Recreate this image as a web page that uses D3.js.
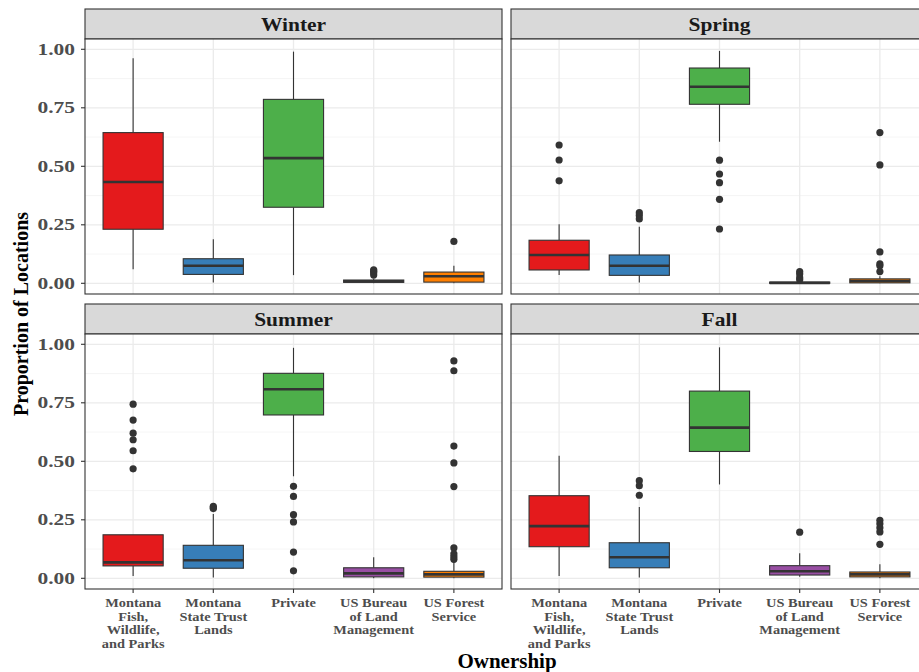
<!DOCTYPE html>
<html>
<head>
<meta charset="utf-8">
<script src="https://cdn.jsdelivr.net/npm/d3@7"></script>
<style>
  body { margin: 0; background: #fff; overflow: hidden; }
  text { font-family: "Liberation Serif", "Times New Roman", serif; font-weight: bold; }
</style>
</head>
<body>
<div id="chart"></div>
<script>
// categorie (proprietà del terreno)
var categories = ["Montana Fish, Wildlife, and Parks", "Montana State Trust Lands", "Private",
                  "US Bureau of Land Management", "US Forest Service"];
var categoryLines = [["Montana", "Fish,", "Wildlife,", "and Parks"],
                     ["Montana", "State Trust", "Lands"],
                     ["Private"],
                     ["US Bureau", "of Land", "Management"],
                     ["US Forest", "Service"]];
var seasons = ["Winter", "Spring", "Summer", "Fall"];
var colors = ["#E41A1C", "#377EB8", "#4DAF4A", "#984EA3", "#FF7F00"];
var yTicks = [0, 0.25, 0.5, 0.75, 1];
var yMinor = [0.125, 0.375, 0.625, 0.875];

// [min whisker, q1, mediana, q3, max whisker] per categoria
var winterStats = [[0.06, 0.231, 0.433, 0.644, 0.962],
                   [0.003, 0.038, 0.075, 0.105, 0.188],
                   [0.035, 0.325, 0.535, 0.786, 0.99],
                   [0.0, 0.004, 0.009, 0.014, 0.02],
                   [0.0, 0.005, 0.03, 0.048, 0.075]];
var winterOutliers = [[], [], [], [0.035, 0.045, 0.052, 0.057], [0.179]];

var springStats = [[0.035, 0.057, 0.121, 0.184, 0.252],
                   [0.003, 0.034, 0.075, 0.121, 0.242],
                   [0.605, 0.765, 0.84, 0.92, 0.993],
                   [0.0, 0.0, 0.002, 0.005, 0.008],
                   [0.0, 0.002, 0.01, 0.019, 0.03]];
var springOutliers = [[0.591, 0.527, 0.438],
                      [0.302, 0.29, 0.275],
                      [0.526, 0.467, 0.43, 0.359, 0.232],
                      [0.015, 0.024, 0.04, 0.05],
                      [0.644, 0.506, 0.134, 0.083, 0.075, 0.05]];

var summerStats = [[0.01, 0.053, 0.068, 0.186, 0.186],
                   [0.003, 0.043, 0.077, 0.141, 0.275],
                   [0.436, 0.698, 0.808, 0.876, 0.985],
                   [0.0, 0.006, 0.021, 0.045, 0.09],
                   [0.0, 0.005, 0.017, 0.03, 0.071]];
var summerOutliers = [[0.744, 0.676, 0.62, 0.592, 0.545, 0.468],
                      [0.308, 0.302, 0.298],
                      [0.393, 0.35, 0.272, 0.241, 0.112, 0.032],
                      [],
                      [0.929, 0.887, 0.565, 0.493, 0.392, 0.13, 0.104, 0.092, 0.081]];

var fallStats = [[0.01, 0.135, 0.223, 0.353, 0.524],
                 [0.003, 0.045, 0.09, 0.152, 0.305],
                 [0.401, 0.542, 0.644, 0.8, 0.987],
                 [0.007, 0.014, 0.03, 0.054, 0.107],
                 [0.0, 0.006, 0.017, 0.027, 0.06]];
var fallOutliers = [[], [0.417, 0.396, 0.355], [], [0.197],
                    [0.248, 0.233, 0.216, 0.198, 0.145]];

var allStats = [winterStats, springStats, summerStats, fallStats];
var allOutliers = [winterOutliers, springOutliers, summerOutliers, fallOutliers];

var width = 919, height = 672;
var panelW = 417, stripH = 30, plotH = 255;
var panelX = [85, 511];
var panelY = [9, 304];

var svg = d3.select("#chart").append("svg")
  .attr("width", width).attr("height", height);

var x = d3.scalePoint().domain(categories).range([0, panelW]).padding(0.6);
var step = x.step();
var boxW = step * 0.75;
var y = d3.scaleLinear().domain([-0.0457, 1.044]).range([plotH, 0]);

seasons.forEach(function(season, si) {
  var col = si % 2, row = Math.floor(si / 2);
  var g = svg.append("g").attr("transform", "translate(" + panelX[col] + "," + panelY[row] + ")");

  // striscia del titolo
  g.append("rect").attr("width", panelW).attr("height", stripH)
    .attr("fill", "#D9D9D9").attr("stroke", "#333").attr("stroke-width", 1.1);
  g.append("text")
    .attr("transform", "translate(" + panelW / 2 + "," + (stripH / 2 + 6.5) + ") scale(1.13,1)")
    .attr("text-anchor", "middle").attr("font-size", 19).attr("fill", "#1A1A1A")
    .text(season);

  var p = g.append("g").attr("transform", "translate(0," + stripH + ")");
  p.append("rect").attr("width", panelW).attr("height", plotH).attr("fill", "#fff");

  // griglia
  p.selectAll(".minor").data(yMinor).enter().append("line")
    .attr("x1", 0).attr("x2", panelW)
    .attr("y1", function(d) { return y(d); }).attr("y2", function(d) { return y(d); })
    .attr("stroke", "#F2F2F2").attr("stroke-width", 0.8);
  p.selectAll(".major").data(yTicks).enter().append("line")
    .attr("x1", 0).attr("x2", panelW)
    .attr("y1", function(d) { return y(d); }).attr("y2", function(d) { return y(d); })
    .attr("stroke", "#EBEBEB").attr("stroke-width", 1.3);
  p.selectAll(".vmajor").data(categories).enter().append("line")
    .attr("x1", function(d) { return x(d); }).attr("x2", function(d) { return x(d); })
    .attr("y1", 0).attr("y2", plotH)
    .attr("stroke", "#EBEBEB").attr("stroke-width", 1.3);

  var stats = allStats[si], outs = allOutliers[si];

  categories.forEach(function(c, ci) {
    var s = stats[ci], cx = x(c);
    var bg = p.append("g");
    bg.append("line").attr("x1", cx).attr("x2", cx)
      .attr("y1", y(s[0])).attr("y2", y(s[1]))
      .attr("stroke", "#333").attr("stroke-width", 1.1);
    bg.append("line").attr("x1", cx).attr("x2", cx)
      .attr("y1", y(s[3])).attr("y2", y(s[4]))
      .attr("stroke", "#333").attr("stroke-width", 1.1);
    bg.append("rect").attr("x", cx - boxW / 2).attr("width", boxW)
      .attr("y", y(s[3])).attr("height", Math.max(0.5, y(s[1]) - y(s[3])))
      .attr("fill", colors[ci]).attr("stroke", "#333").attr("stroke-width", 1.1);
    bg.append("line").attr("x1", cx - boxW / 2).attr("x2", cx + boxW / 2)
      .attr("y1", y(s[2])).attr("y2", y(s[2]))
      .attr("stroke", "#333").attr("stroke-width", 2.6);
    bg.selectAll("circle").data(outs[ci]).enter().append("circle")
      .attr("cx", cx).attr("cy", function(d) { return y(d); })
      .attr("r", 3.6).attr("fill", "#333");
  });

  // bordo pannello
  p.append("rect").attr("width", panelW).attr("height", plotH)
    .attr("fill", "none").attr("stroke", "#333").attr("stroke-width", 1.1);

  // asse y solo a sinistra
  if (col == 0) {
    yTicks.forEach(function(t) {
      p.append("line").attr("x1", -4).attr("x2", 0)
        .attr("y1", y(t)).attr("y2", y(t)).attr("stroke", "#333").attr("stroke-width", 1.1);
      p.append("text")
        .attr("transform", "translate(-10," + (y(t) + 5.5) + ") scale(1.3,1)")
        .attr("text-anchor", "end").attr("font-size", 16.5).attr("fill", "#4D4D4D")
        .text(d3.format(".2f")(t));
    });
  }

  // asse x solo in basso
  if (row == 1) {
    categories.forEach(function(c, ci) {
      p.append("line").attr("x1", x(c)).attr("x2", x(c))
        .attr("y1", plotH).attr("y2", plotH + 4).attr("stroke", "#333").attr("stroke-width", 1.1);
      var t = p.append("text")
        .attr("transform", "translate(" + x(c) + "," + (plotH + 18) + ") scale(1.15,1)")
        .attr("text-anchor", "middle").attr("font-size", 12.5).attr("fill", "#4D4D4D");
      categoryLines[ci].forEach(function(l, li) {
        t.append("tspan").attr("x", 0).attr("y", li * 13.7).text(l);
      });
    });
  }
});

// titoli degli assi
svg.append("text")
  .attr("transform", "translate(28,314) rotate(-90)")
  .attr("text-anchor", "middle").attr("font-size", 20).attr("fill", "#000")
  .text("Proportion of Locations");
svg.append("text")
  .attr("x", 507).attr("y", 668)
  .attr("text-anchor", "middle").attr("font-size", 21).attr("fill", "#000")
  .text("Ownership");
</script>
</body>
</html>
